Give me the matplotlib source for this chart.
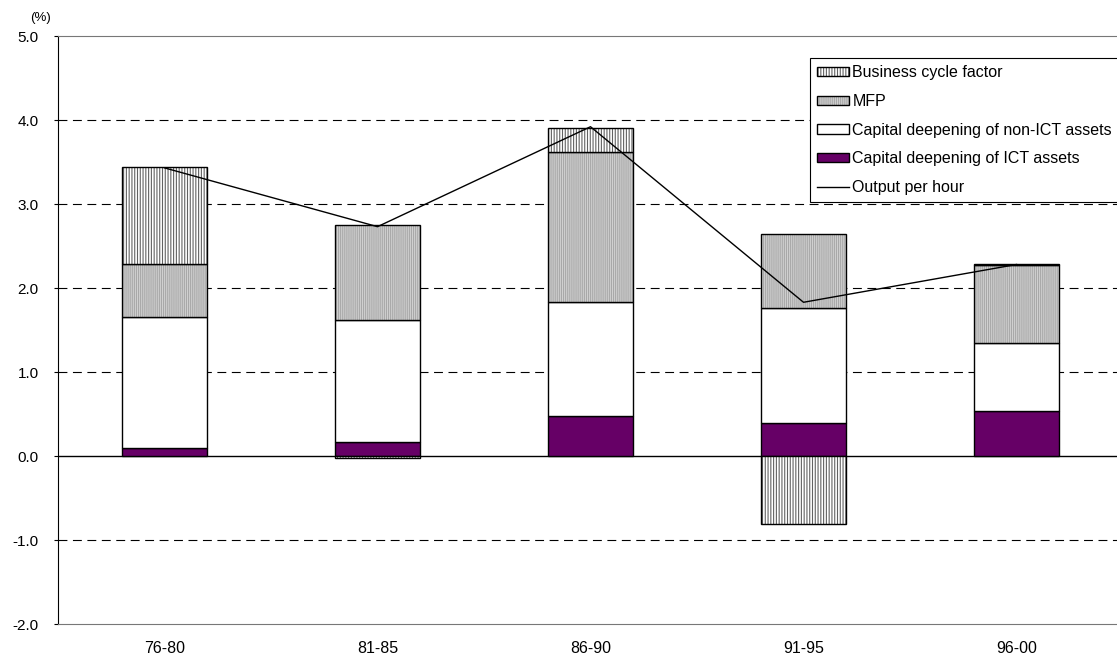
import numpy as np
import matplotlib
matplotlib.use('Agg')
import matplotlib.pyplot as plt
from matplotlib.patches import Patch
from matplotlib.lines import Line2D
from matplotlib.colors import to_rgba

plt.rcParams['font.family'] = ['Liberation Sans', 'DejaVu Sans']
plt.rcParams['hatch.linewidth'] = 0.8

# Contribution to labour productivity growth, by period (%)
periods = ['76-80', '81-85', '86-90', '91-95', '96-00']
ict_capital = [0.09, 0.17, 0.48, 0.39, 0.53]
non_ict_capital = [1.57, 1.45, 1.35, 1.37, 0.82]
mfp = [0.63, 1.13, 1.79, 0.88, 0.92]
business_cycle = [1.15, -0.02, 0.29, -0.81, 0.01]
output_per_hour = [3.43, 2.73, 3.92, 1.83, 2.28]

ICT_COLOR = '#660066'
MFP_FACE, MFP_HATCH = '#d2d2d2', '#a8a8a8'
BCF_HATCH = '#626262'

fig = plt.figure(figsize=(11.17, 6.59), dpi=100)
ax = fig.add_axes([58 / 1117, 35 / 659, 1065 / 1117, 588 / 659])

x = np.arange(len(periods))
width = 0.40

styles = [
  (ict_capital, ICT_COLOR, None, None),
  (non_ict_capital, 'white', None, None),
  (mfp, MFP_FACE, '||||||||', MFP_HATCH),
  (business_cycle, 'white', '||||||', BCF_HATCH),
]

# stack positives upward and negatives downward from zero
pos_base = np.zeros(len(periods))
neg_base = np.zeros(len(periods))
for values, face, hatch, hcol in styles:
  vals = np.array(values)
  bottoms = np.where(vals >= 0, pos_base, neg_base)
  bars = ax.bar(x, vals, width, bottom=bottoms, color=face, edgecolor='black',
                linewidth=1.0, hatch=hatch, zorder=3)
  if hatch:
    for b in bars:
      b._hatch_color = to_rgba(hcol)
  pos_base = pos_base + np.where(vals >= 0, vals, 0)
  neg_base = neg_base + np.where(vals < 0, vals, 0)

ax.plot(x, output_per_hour, color='black', linewidth=1.0, zorder=4)

ax.set_xlim(-0.5, len(periods) - 0.5)
ax.set_ylim(-2.0, 5.0)
yt = np.arange(-2.0, 5.01, 1.0)
ax.set_yticks(yt)
ax.set_yticklabels([f'{v:.1f}' for v in yt], fontsize=11)
ax.set_xticks(x)
ax.set_xticklabels(periods, fontsize=11.5)
ax.tick_params(axis='x', length=0, pad=12)
ax.tick_params(axis='y', length=3, direction='out', pad=11)

for v in [-1.0, 1.0, 2.0, 3.0, 4.0]:
  ax.axhline(v, color='black', linewidth=0.8, linestyle=(0, (8, 5)), zorder=1)
ax.axhline(0, color='black', linewidth=1.0, zorder=2)

ax.spines['right'].set_visible(False)
ax.spines['top'].set_color('#777777')
ax.spines['bottom'].set_color('#777777')
ax.spines['left'].set_color('black')

fig.text(30 / 1117, 1 - 18 / 659, '(%)', fontsize=9.5, va='center', ha='left')

handles = [
  Patch(facecolor='white', edgecolor='black', hatch='||||||'),
  Patch(facecolor=MFP_FACE, edgecolor='black', hatch='||||||||'),
  Patch(facecolor='white', edgecolor='black'),
  Patch(facecolor=ICT_COLOR, edgecolor='black'),
  Line2D([0], [0], color='black', linewidth=1.0),
]
labels = ['Business cycle factor', 'MFP', 'Capital deepening of non-ICT assets',
          'Capital deepening of ICT assets', 'Output per hour']
leg = fig.legend(handles, labels, loc='upper left', bbox_to_anchor=(810 / 1117, 1 - 58 / 659),
                 fontsize=11.5, frameon=True, fancybox=False, framealpha=1,
                 edgecolor='black', handlelength=2.0, handleheight=0.5,
                 handletextpad=0.2, labelspacing=0.86, borderpad=0.45, borderaxespad=0)
leg.get_frame().set_linewidth(0.8)
leg.legend_handles[0]._hatch_color = to_rgba(BCF_HATCH)
leg.legend_handles[1]._hatch_color = to_rgba(MFP_HATCH)

fig.savefig('out.png', dpi=100)
